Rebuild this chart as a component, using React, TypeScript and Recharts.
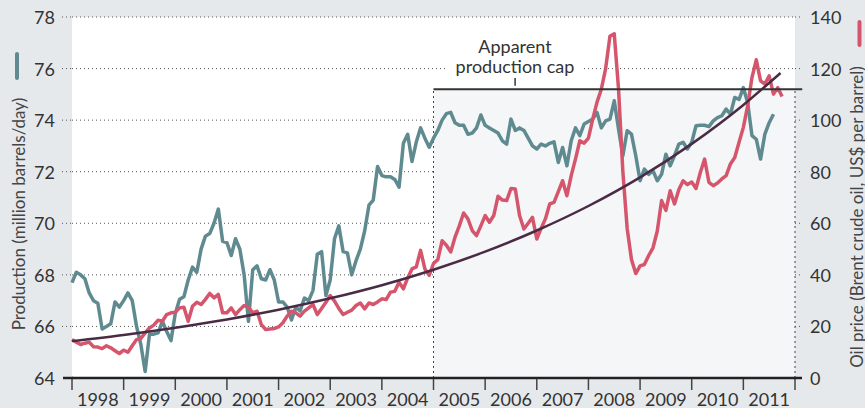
import React from 'react';
import { LineChart, Line, XAxis, YAxis, CartesianGrid, ReferenceArea, ReferenceLine } from 'recharts';

const START_YEAR = 1998;
const yearTicks = [1998, 1999, 2000, 2001, 2002, 2003, 2004, 2005, 2006, 2007, 2008, 2009, 2010, 2011, 2012];
const productionTicks = [64, 66, 68, 70, 72, 74, 76, 78];
const priceTicks = [0, 20, 40, 60, 80, 100, 120, 140];

// world oil production, million barrels/day, monthly from Jan 1998
const production = [
  67.7, 68.1, 68.0, 67.85, 67.3, 67.0, 66.9, 65.9, 66.0, 66.1, 66.95, 66.75,
  67.0, 67.3, 67.0, 66.0, 65.3, 64.25, 65.7, 65.7, 65.75, 66.2, 65.8, 65.45,
  66.5, 67.05, 67.15, 67.8, 68.3, 68.1, 69.0, 69.5, 69.6, 70.0, 70.55, 69.3,
  69.25, 68.75, 69.4, 69.0, 68.0, 66.2, 68.2, 68.35, 67.85, 67.8, 68.2, 67.8,
  66.95, 66.95, 66.75, 66.25, 66.75, 66.6, 67.1, 67.0, 67.4, 68.8, 68.9, 67.2,
  67.8, 69.4, 69.9, 68.9, 68.85, 68.0, 68.55, 69.0, 69.7, 70.7, 70.9, 72.2,
  71.85, 71.8, 71.8, 71.7, 71.4, 73.1, 73.45, 72.4, 73.15, 73.7, 73.3, 72.95,
  73.3, 73.6, 74.0, 74.25, 74.3, 73.9, 73.8, 73.8, 73.45, 73.5, 73.7, 74.2,
  73.8, 73.7, 73.6, 73.5, 73.2, 73.07, 74.04, 73.6, 73.7, 73.6, 73.3, 73.0,
  72.88, 73.07, 73.0, 73.1, 73.16, 72.36, 72.94, 72.23, 73.2, 73.7, 73.4, 73.85,
  73.95, 74.04, 74.3, 73.7, 73.97, 74.04, 74.75, 73.65, 72.62, 73.59, 73.46, 72.62,
  71.65, 72.1, 71.9, 72.04, 71.65, 71.9, 72.68, 72.23, 72.62, 73.07, 73.14, 72.88,
  73.14, 73.78, 73.8, 73.8, 73.75, 73.97, 74.1, 74.17, 74.43, 74.23, 74.88, 74.8,
  75.26, 74.68, 73.4, 73.26, 72.49, 73.46, 73.9, 74.23,
];

// Brent crude, US$ per barrel, monthly from Jan 1998
const price = [
  14.9, 13.9, 13.0, 13.5, 13.9, 12.1, 12.0, 11.4, 12.5, 11.7, 10.6, 9.5,
  10.8, 10.0, 12.5, 14.9, 15.4, 17.5, 19.4, 20.5, 22.4, 22.0, 24.6, 25.3,
  25.5, 27.2, 27.4, 22.0, 27.8, 29.4, 28.5, 30.5, 32.8, 31.1, 32.4, 25.3,
  25.3, 27.2, 24.6, 26.5, 28.1, 27.5, 25.3, 25.9, 20.7, 18.8, 19.0, 19.2,
  19.8, 21.4, 24.0, 25.9, 25.3, 24.0, 25.9, 27.2, 28.5, 24.6, 27.0, 29.4,
  32.0, 29.8, 27.0, 24.6, 25.5, 26.3, 28.1, 29.1, 26.8, 29.1, 28.5, 29.5,
  30.7, 30.4, 33.3, 33.6, 37.1, 34.6, 38.8, 42.3, 43.1, 49.5, 42.3, 39.8,
  44.4, 45.9, 53.2, 51.5, 48.9, 54.6, 59.0, 64.0, 61.7, 57.2, 55.2, 59.0,
  63.0, 60.4, 63.0, 70.5, 69.0, 68.8, 73.5, 73.3, 63.0, 57.8, 60.0, 62.3,
  53.9, 58.0, 61.7, 67.5, 68.1, 72.3, 76.5, 70.7, 78.5, 85.0, 92.0, 91.1,
  93.0, 100.4, 107.0, 112.0, 120.0, 132.5, 133.5, 112.0, 80.0, 58.0, 46.0, 40.5,
  43.5, 44.0, 47.5, 50.5, 57.0, 68.8, 65.0, 72.6, 67.5, 73.0, 76.5, 75.0,
  76.0, 73.5, 79.7, 84.9, 75.9, 74.6, 75.6, 77.2, 78.5, 83.0, 85.5, 91.4,
  97.2, 105.5, 116.5, 123.4, 115.2, 114.0, 117.2, 110.1, 112.6, 109.2,
];

// price trend curve, read at year marks
const trendYears = [1998, 1999, 2000, 2001, 2002, 2003, 2004, 2005, 2006, 2007, 2008, 2009, 2010, 2011, 2011.72];
const trendPrice = [14.3, 16.7, 19.5, 22.7, 26.5, 30.9, 36.0, 42.0, 49.0, 57.2, 66.7, 77.8, 90.8, 105.9, 118.3];

const capFrom = 2005;
const capTo = 2012;
const capLevel = 75.2;

const monthly = price.map((p, i) => ({ x: START_YEAR + i / 12, price: p, production: production[i] }));
const trendData = trendYears.map((x, i) => ({ x, trend: trendPrice[i] }));

const W = 865;
const H = 408;
const PLOT_LEFT = 72;
const PLOT_RIGHT = 795;
const PLOT_BOTTOM = 378;
const HALF_YEAR = (PLOT_RIGHT - PLOT_LEFT) / (yearTicks.length - 1) / 2;

const FONT = 'Lato, "Open Sans", sans-serif';
const TEXT = '#333';
const GRID = '#555';
const TEAL = '#5f8b90';
const RED = '#d5566c';
const TREND = '#4a2b45';
const BG = '#e6e9ec';

const XTick = (props: any) => {
  const { x, payload } = props;
  const last = payload.value === yearTicks[yearTicks.length - 1];
  return (
    <g>
      <line x1={x} x2={x} y1={PLOT_BOTTOM + 1} y2={PLOT_BOTTOM + 12} stroke="#444" strokeWidth={1.5} />
      {!last && (
        <text x={x + HALF_YEAR} y={406} textAnchor="middle" fill={TEXT} fontSize={18} fontFamily={FONT}>
          {payload.value}
        </text>
      )}
    </g>
  );
};

const LeftTick = (props: any) => {
  const { y, payload } = props;
  const base = payload.value === productionTicks[0];
  return (
    <g>
      {base ? (
        <line x1={63} x2={PLOT_LEFT + 1} y1={y} y2={y} stroke="#222" strokeWidth={2.5} />
      ) : (
        <line x1={62} x2={PLOT_LEFT} y1={y} y2={y} stroke={GRID} strokeDasharray="1 3" />
      )}
      <text x={55} y={y + 7} textAnchor="end" fill={TEXT} fontSize={18} fontFamily={FONT}>
        {payload.value}
      </text>
    </g>
  );
};

const RightTick = (props: any) => {
  const { y, payload } = props;
  const base = payload.value === priceTicks[0];
  return (
    <g>
      {base ? (
        <line x1={PLOT_RIGHT - 1} x2={802} y1={y} y2={y} stroke="#222" strokeWidth={2.5} />
      ) : (
        <line x1={PLOT_RIGHT} x2={802} y1={y} y2={y} stroke={GRID} strokeDasharray="1 3" />
      )}
      <text x={810} y={y + 7} textAnchor="start" fill={TEXT} fontSize={18} fontFamily={FONT}>
        {payload.value}
      </text>
    </g>
  );
};

export default function App() {
  return (
    <div style={{ position: 'absolute', left: 0, top: 0, width: W, height: H, background: BG, overflow: 'hidden' }}>
      <LineChart width={W} height={H} data={monthly} margin={{ top: 17, right: 0, bottom: 0, left: 0 }}>
        <CartesianGrid yAxisId="left" vertical={false} stroke={GRID} strokeDasharray="1 3" fill="#fff" />
        <ReferenceArea
          yAxisId="left"
          x1={capFrom}
          x2={capTo}
          y1={productionTicks[0]}
          y2={capLevel}
          fill="#f4f6f8"
          fillOpacity={1}
          stroke="none"
        />
        <XAxis
          type="number"
          dataKey="x"
          domain={[START_YEAR, capTo]}
          ticks={yearTicks}
          interval={0}
          height={30}
          tickLine={false}
          axisLine={{ stroke: '#222', strokeWidth: 2.5 }}
          tick={<XTick />}
        />
        <YAxis
          yAxisId="left"
          domain={[productionTicks[0], productionTicks[productionTicks.length - 1]]}
          ticks={productionTicks}
          interval={0}
          width={PLOT_LEFT}
          axisLine={false}
          tickLine={false}
          tick={<LeftTick />}
        />
        <YAxis
          yAxisId="right"
          orientation="right"
          domain={[priceTicks[0], priceTicks[priceTicks.length - 1]]}
          ticks={priceTicks}
          interval={0}
          width={W - PLOT_RIGHT}
          axisLine={false}
          tickLine={false}
          tick={<RightTick />}
        />
        <ReferenceLine
          yAxisId="left"
          segment={[{ x: capFrom, y: productionTicks[0] }, { x: capFrom, y: capLevel }]}
          stroke="#444"
          strokeDasharray="2 3"
        />
        <ReferenceLine
          yAxisId="left"
          segment={[{ x: capTo, y: productionTicks[0] }, { x: capTo, y: capLevel }]}
          stroke="#444"
          strokeDasharray="2 3"
          ifOverflow="visible"
        />
        <Line
          yAxisId="left"
          dataKey="production"
          stroke={TEAL}
          strokeWidth={3.5}
          dot={false}
          strokeLinejoin="round"
          isAnimationActive={false}
        />
        <Line
          yAxisId="right"
          dataKey="price"
          stroke={RED}
          strokeWidth={3.5}
          dot={false}
          strokeLinejoin="round"
          isAnimationActive={false}
        />
        <Line
          yAxisId="right"
          data={trendData}
          dataKey="trend"
          type="monotone"
          stroke={TREND}
          strokeWidth={2.5}
          dot={false}
          isAnimationActive={false}
        />
        <ReferenceLine
          yAxisId="left"
          segment={[{ x: capFrom, y: capLevel }, { x: capTo + 0.14, y: capLevel }]}
          stroke="#333"
          strokeWidth={2}
          ifOverflow="visible"
        />
        <ReferenceLine
          yAxisId="left"
          segment={[{ x: 2006.58, y: 75.33 }, { x: 2006.58, y: 75.63 }]}
          stroke="#333"
          strokeWidth={1.5}
        />
      </LineChart>
      <svg
        width={W}
        height={H}
        style={{ position: 'absolute', left: 0, top: 0, pointerEvents: 'none' }}
        fontFamily={FONT}
      >
        <rect x={447} y={36} width={136} height={40} fill="#fff" />
        <text x={515} y={53} textAnchor="middle" fill={TEXT} fontSize={18}>
          Apparent
        </text>
        <text x={515} y={73} textAnchor="middle" fill={TEXT} fontSize={18}>
          production cap
        </text>
        <rect x={15} y={52} width={4} height={28} rx={2} fill={TEAL} />
        <text
          transform="translate(24.5 214) rotate(-90)"
          textAnchor="middle"
          fill="#444"
          fontSize={17}
        >
          Production (million barrels/day)
        </text>
        <rect x={857.5} y={20} width={4} height={27} rx={2} fill={RED} />
        <text
          transform="translate(863 217) rotate(-90)"
          textAnchor="middle"
          fill="#444"
          fontSize={17}
        >
          Oil price (Brent crude oil, US$ per barrel)
        </text>
      </svg>
    </div>
  );
}
